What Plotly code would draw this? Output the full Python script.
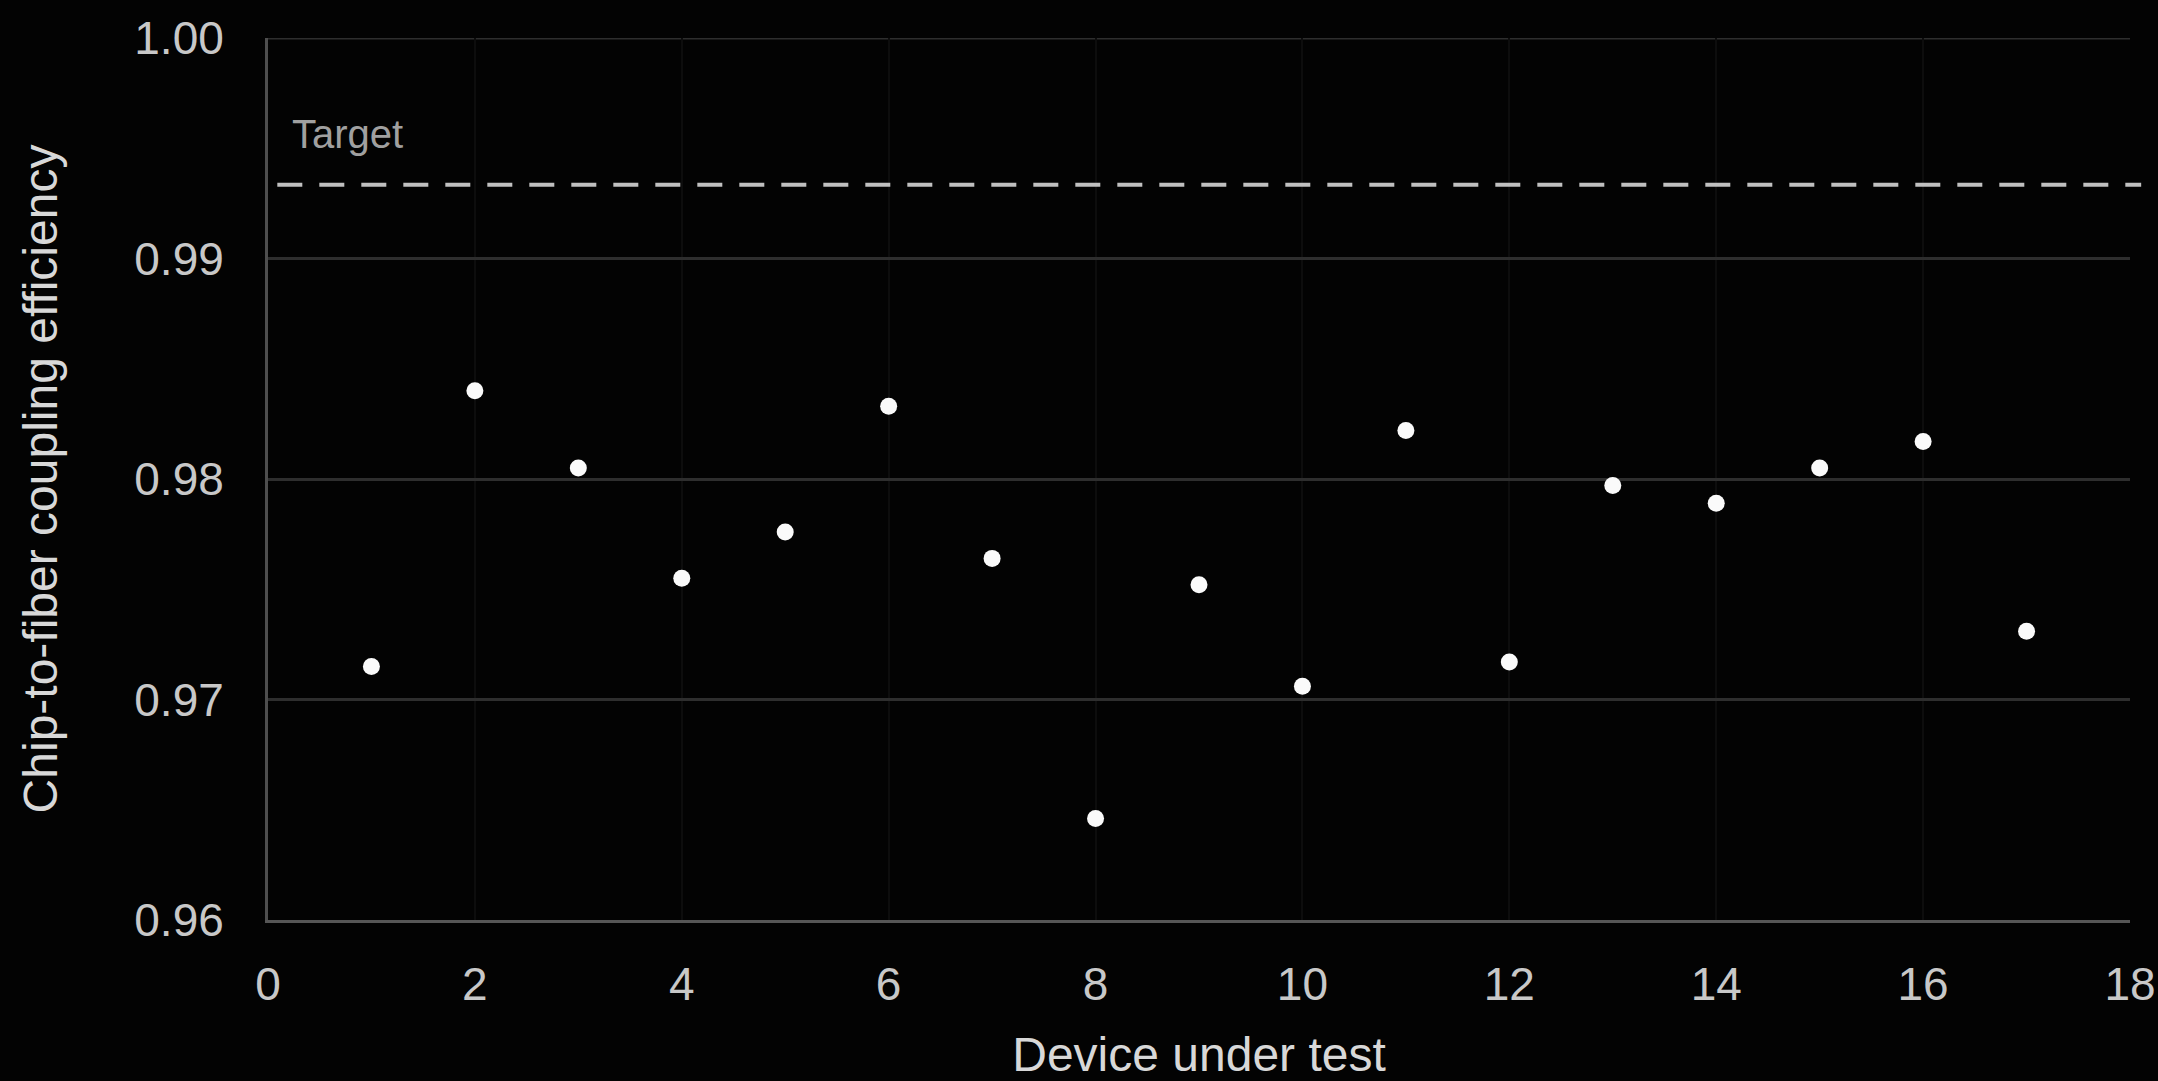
import plotly.graph_objects as go

# Measured coupling efficiency per device
devices = list(range(1, 18))
efficiency = [0.9715, 0.9840, 0.9805, 0.9755, 0.9776, 0.9833, 0.9764, 0.9646, 0.9752,
              0.9706, 0.9822, 0.9717, 0.9797, 0.9789, 0.9805, 0.9817, 0.9731]
target_value = 0.99335

x_ticks = [0, 2, 4, 6, 8, 10, 12, 14, 16, 18]
y_ticks = [0.96, 0.97, 0.98, 0.99, 1.00]
y_tick_text = ["0.96", "0.97", "0.98", "0.99", "1.00"]

FONT = "Liberation Sans, Arial, Helvetica, sans-serif"
BG = "#030303"

fig = go.Figure()

fig.add_trace(go.Scatter(
    x=devices,
    y=efficiency,
    mode="markers",
    marker=dict(size=17, color="#fafafa", line=dict(width=0)),
    showlegend=False,
    hoverinfo="x+y",
))

# Top grid line at the upper end of the range
fig.add_shape(
    type="line", xref="paper", yref="y",
    x0=0, x1=1, y0=y_ticks[-1], y1=y_ticks[-1],
    line=dict(color="#2e2e2e", width=3), layer="below",
)

# Target reference line
fig.add_shape(
    type="line", xref="paper", yref="y",
    x0=0.005, x1=1.006, y0=target_value, y1=target_value,
    line=dict(color="#c0c0c0", width=4, dash="25px,17px"),
)
fig.add_annotation(
    xref="paper", yref="y", x=0.012, y=target_value,
    text="Target", showarrow=False, xanchor="left", yanchor="bottom",
    yshift=27, font=dict(family=FONT, size=40, color="#a0a0a0"),
)

fig.update_layout(
    width=2158, height=1081,
    margin=dict(l=268, r=28, t=38, b=161, autoexpand=False),
    paper_bgcolor=BG, plot_bgcolor=BG,
    font=dict(family=FONT, color="#d0d0d0"),
)

fig.update_xaxes(
    range=[0, 18], tickmode="array", tickvals=x_ticks, automargin=False,
    showgrid=True, gridcolor="#0d0d0d", gridwidth=2,
    zeroline=False, showline=True, linecolor="#565656", linewidth=3,
    ticks="", ticklabelstandoff=22, ticklabeloverflow="allow",
    tickfont=dict(family=FONT, size=46, color="#c8c8c8"),
    title=dict(text="Device under test", standoff=30,
               font=dict(family=FONT, size=48, color="#d8d8d8")),
)
fig.update_yaxes(
    range=[0.96, 1.00], tickmode="array", tickvals=y_ticks, ticktext=y_tick_text,
    automargin=False,
    showgrid=True, gridcolor="#2e2e2e", gridwidth=3,
    zeroline=False, showline=True, linecolor="#4e4e4e", linewidth=3,
    ticks="", ticklabelstandoff=32,
    tickfont=dict(family=FONT, size=46, color="#c8c8c8"),
    title=dict(text="Chip-to-fiber coupling efficiency", standoff=62,
               font=dict(family=FONT, size=48, color="#d8d8d8")),
)

fig.write_html("out.html")
